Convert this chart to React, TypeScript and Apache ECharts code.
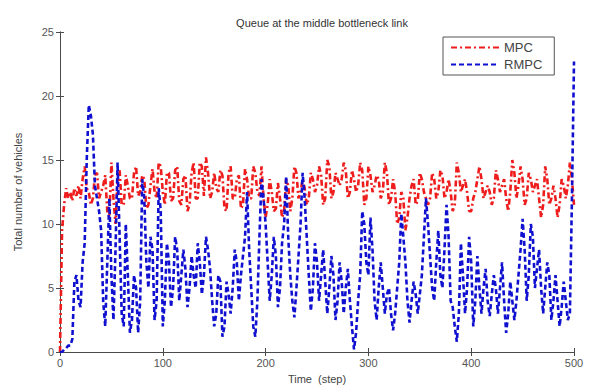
import React, { useEffect, useRef } from "react";
import * as echarts from "echarts";

const STEP = 2;
const xTicks = [0, 100, 200, 300, 400, 500];
const yTicks = [0, 5, 10, 15, 20, 25];

const mpcValues = [
  0, 9.5, 11.5, 12.8, 12, 12.5, 11.8, 12.8, 12.2, 13, 12, 13.5, 14.5, 12.8, 12.5, 11.5, 12, 13.8, 14, 12, 12.5, 13, 13.8, 11, 10.5,
  14.8, 12, 10, 13.5, 14.2, 11.5, 11.5, 13.8, 13, 12, 12, 14, 14.5, 12.2, 12.5, 13.8, 13.5, 11.2, 11.5, 13, 14.3, 12.5, 12, 14.8, 14.5,
  12.5, 11.5, 14, 14, 11.8, 12, 14.2, 14.5, 11.8, 11.5, 13.5, 13.8, 11, 11.5, 14, 14.8, 12, 12, 14.8, 14.5, 12.2, 15.2, 14, 12, 12.5,
  14, 12.8, 12.5, 14.2, 13.8, 11.2, 11, 14, 14.5, 12, 12, 13.5, 13.8, 11.2, 11.5, 14.3, 13.5, 12, 12, 14.5, 14, 12.5, 12.2, 14.5, 12,
  10.5, 11.5, 13.5, 12.5, 11, 11.2, 13.2, 12, 10.5, 11, 13.5, 13, 11, 12, 14.5, 14, 12, 12.5, 13.5, 12.8, 11.5, 12, 14, 13.5, 12.5,
  13, 14.5, 13.8, 11.5, 12, 15, 14.5, 12, 12.5, 14, 13.5, 13, 13.5, 14.8, 14.2, 12, 12.5, 14.2, 13.5, 12.5, 13, 14.8, 14.2, 11.5, 12,
  14.5, 13.8, 12.5, 13, 13.8, 13.5, 12, 12.5, 14.8, 14, 11.5, 12, 13.5, 12.5, 10, 10.5, 12.5, 12, 9.5, 10.5, 12, 13, 13.5, 11.5, 11.8,
  14, 13.5, 12.5, 12, 11.5, 12, 14, 13.5, 12, 12.5, 14.2, 13.8, 12, 12.5, 13.5, 12.5, 11, 11.5, 14.8, 14, 12.5, 13, 13.5, 12.5, 11,
  11, 12, 12.5, 13.5, 14.5, 13.5, 12, 12.5, 13, 12.5, 11.5, 12, 14.2, 13.5, 12.5, 13, 13.5, 12, 11, 12.5, 15, 14, 12, 13, 14.5,
  13.5, 11.5, 12, 14, 13.5, 12.5, 13, 13.5, 12, 10.5, 11.5, 14.5, 13.5, 11.5, 12, 13, 12, 10.5, 11.5, 13.5, 13, 12, 13, 14.8, 13.5,
  11.5,
];

const rmpcValues = [
  0, 0, 0.2, 0.3, 0.5, 0.5, 1, 5.5, 6, 4, 3.5, 7, 8.5, 15, 19.3, 18.5, 17, 13, 12, 11, 9.5, 4, 2, 7, 12,
  6, 2.5, 8, 14.8, 9, 3, 2, 10, 6, 1.5, 2.5, 6, 5, 1.5, 4, 13.5, 12, 7, 5, 9, 8, 2.5, 4, 12.8, 11,
  2, 4, 8.5, 7, 3.5, 5, 9, 8, 4, 6, 8, 6.5, 3.5, 5, 7.5, 6, 5, 8.5, 7, 4.5, 6, 9, 8, 6.5, 4,
  2, 3, 6, 5.5, 1.2, 2, 5.5, 4.5, 3, 5, 8, 7, 4, 6, 7.5, 9, 12.5, 8, 5, 2, 1.2, 4, 9, 13.5, 12,
  10, 7, 4, 6, 9, 7.5, 3.5, 5, 8.5, 10, 13.7, 9, 6, 4, 2.7, 5, 7.5, 10, 14, 12, 9, 6, 3.2, 5, 8.5,
  7, 4, 6, 8, 5.5, 3, 5, 7.5, 6, 2.5, 4, 7, 5.5, 3, 5, 6.5, 4, 2, 0.2, 1.5, 4, 6, 11, 10, 7,
  6, 10.5, 8, 4, 2.5, 5, 7, 5, 3, 4.5, 5, 3, 1.7, 3, 5, 7, 10.8, 9, 7, 4, 2.3, 4, 5.5, 4.5, 3,
  4.5, 6, 9, 12, 10, 7.5, 5, 4, 7, 9.5, 6, 5, 8, 11.5, 9, 4, 3.5, 2, 0.8, 3, 8.5, 6, 3, 5, 9,
  7, 2, 4, 7.5, 5, 3, 5, 6.5, 4, 2.8, 4.5, 6, 5, 3, 5, 7, 4, 1.5, 3, 5.5, 4, 2.5, 4, 6, 8,
  10.4, 8, 4, 6, 10, 9, 5, 6.5, 8, 5, 3, 5, 7, 6, 2.5, 4, 6, 4, 2, 3.5, 5.5, 4, 2.5, 3, 12,
  22.7,
];

const toPairs = (vals: number[]) => vals.map((v, i) => [i * STEP, v]);

const FONT = "'Liberation Sans', Arial, sans-serif";
const AXIS = "#4a4a4a";
const RED = "#ee1c1c";
const BLUE = "#1010d0";

export default function App() {
  const ref = useRef<HTMLDivElement>(null);
  useEffect(() => {
    if (!ref.current) return;
    const chart = echarts.init(ref.current, undefined, { renderer: "svg" });
    const axisCommon = {
      type: "value" as const,
      axisLine: { show: true, lineStyle: { color: AXIS, width: 1 } },
      axisTick: { show: true, inside: true, length: 4, lineStyle: { color: AXIS } },
      splitLine: { show: false },
    };
    chart.setOption({
      animation: false,
      backgroundColor: "#ffffff",
      title: {
        text: "Queue at the middle bottleneck link",
        left: 317,
        textAlign: "center",
        top: 12,
        textStyle: { fontFamily: FONT, fontSize: 11, fontWeight: "normal", color: "#333" },
      },
      grid: { left: 60, right: 15, top: 32, bottom: 36, containLabel: false },
      legend: {
        orient: "vertical",
        left: 443,
        top: 37,
        itemWidth: 48,
        itemHeight: 12,
        itemGap: 4,
        padding: [4, 12, 4, 7],
        borderColor: "#555",
        borderWidth: 1,
        backgroundColor: "#fff",
        itemStyle: { opacity: 0 },
        textStyle: { fontFamily: FONT, fontSize: 13, color: "#444" },
        data: ["MPC", "RMPC"],
      },
      xAxis: [
        {
          ...axisCommon,
          min: 0,
          max: 500,
          interval: 100,
          name: "Time  (step)",
          nameLocation: "middle",
          nameGap: 21,
          nameTextStyle: { fontFamily: FONT, fontSize: 11, color: "#444" },
          axisLabel: { fontFamily: FONT, fontSize: 11, color: "#555", margin: 5 },
        },
        {
          ...axisCommon,
          position: "top",
          min: 0,
          max: 500,
          interval: 100,
          axisLabel: { show: false },
        },
      ],
      yAxis: [
        {
          ...axisCommon,
          min: 0,
          max: 25,
          interval: 5,
          name: "Total number of vehicles",
          nameLocation: "middle",
          nameGap: 37,
          nameTextStyle: { fontFamily: FONT, fontSize: 11, color: "#444" },
          axisLabel: { fontFamily: FONT, fontSize: 11, color: "#555", margin: 6 },
        },
        {
          ...axisCommon,
          position: "right",
          min: 0,
          max: 25,
          interval: 5,
          axisLabel: { show: false },
        },
      ],
      series: [
        {
          name: "MPC",
          type: "line",
          data: toPairs(mpcValues),
          showSymbol: false,
          symbol: "none",
          lineStyle: { color: RED, width: 2.6, type: [6, 3, 2, 3] },
          itemStyle: { color: RED },
        },
        {
          name: "RMPC",
          type: "line",
          data: toPairs(rmpcValues),
          showSymbol: false,
          symbol: "none",
          lineStyle: { color: BLUE, width: 2.6, type: [5, 3] },
          itemStyle: { color: BLUE },
        },
      ],
    });
    return () => chart.dispose();
  }, []);
  return <div ref={ref} style={{ width: 589, height: 389, position: "absolute", left: 0, top: 0 }} />;
}
